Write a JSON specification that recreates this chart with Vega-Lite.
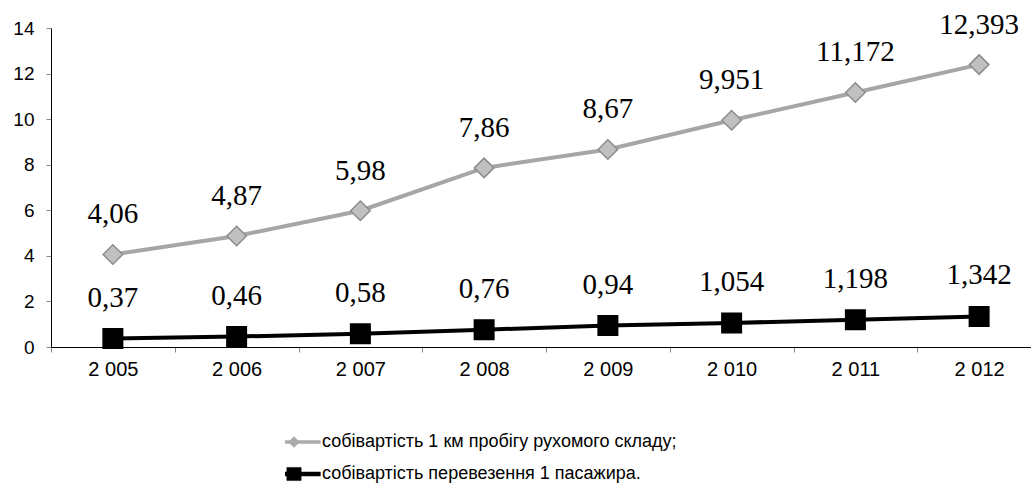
{
  "$schema": "https://vega.github.io/schema/vega-lite/v6.json",
  "width": 980,
  "height": 319,
  "autosize": {"type": "none"},
  "padding": {"left": 51, "top": 28, "right": 0, "bottom": 149},
  "background": "#ffffff",
  "config": {"view": {"stroke": null}, "font": "Liberation Sans"},
  "data": {
    "values": [
      {"year": "2 005", "series": "собівартість 1 км пробігу рухомого складу;", "value": 4.06, "label": "4,06"},
      {"year": "2 006", "series": "собівартість 1 км пробігу рухомого складу;", "value": 4.87, "label": "4,87"},
      {"year": "2 007", "series": "собівартість 1 км пробігу рухомого складу;", "value": 5.98, "label": "5,98"},
      {"year": "2 008", "series": "собівартість 1 км пробігу рухомого складу;", "value": 7.86, "label": "7,86"},
      {"year": "2 009", "series": "собівартість 1 км пробігу рухомого складу;", "value": 8.67, "label": "8,67"},
      {"year": "2 010", "series": "собівартість 1 км пробігу рухомого складу;", "value": 9.951, "label": "9,951"},
      {"year": "2 011", "series": "собівартість 1 км пробігу рухомого складу;", "value": 11.172, "label": "11,172"},
      {"year": "2 012", "series": "собівартість 1 км пробігу рухомого складу;", "value": 12.393, "label": "12,393"},
      {"year": "2 005", "series": "собівартість перевезення 1 пасажира.", "value": 0.37, "label": "0,37"},
      {"year": "2 006", "series": "собівартість перевезення 1 пасажира.", "value": 0.46, "label": "0,46"},
      {"year": "2 007", "series": "собівартість перевезення 1 пасажира.", "value": 0.58, "label": "0,58"},
      {"year": "2 008", "series": "собівартість перевезення 1 пасажира.", "value": 0.76, "label": "0,76"},
      {"year": "2 009", "series": "собівартість перевезення 1 пасажира.", "value": 0.94, "label": "0,94"},
      {"year": "2 010", "series": "собівартість перевезення 1 пасажира.", "value": 1.054, "label": "1,054"},
      {"year": "2 011", "series": "собівартість перевезення 1 пасажира.", "value": 1.198, "label": "1,198"},
      {"year": "2 012", "series": "собівартість перевезення 1 пасажира.", "value": 1.342, "label": "1,342"}
    ]
  },
  "encoding": {
    "x": {
      "field": "year",
      "type": "ordinal",
      "sort": null,
      "scale": {"range": [0, 990], "paddingInner": 0, "paddingOuter": 0},
      "axis": {
        "title": null,
        "labelAngle": 0,
        "tickBand": "extent",
        "labelFontSize": 20,
        "labelColor": "#000000",
        "labelPadding": 7,
        "tickColor": "#888888",
        "tickSize": 5,
        "domainColor": "#000000",
        "grid": false
      }
    },
    "y": {
      "field": "value",
      "type": "quantitative",
      "scale": {"domain": [0, 14], "nice": false},
      "axis": {
        "title": null,
        "values": [0, 2, 4, 6, 8, 10, 12, 14],
        "labelFontSize": 19,
        "labelColor": "#000000",
        "labelPadding": 12,
        "tickColor": "#888888",
        "tickSize": 5,
        "domainColor": "#000000",
        "grid": false
      }
    }
  },
  "layer": [
    {
      "mark": {"type": "line", "strokeWidth": 4},
      "encoding": {
        "color": {
          "field": "series",
          "type": "nominal",
          "scale": {"domain": ["собівартість 1 км пробігу рухомого складу;", "собівартість перевезення 1 пасажира."], "range": ["#A6A6A6", "#000000"]},
          "legend": {
            "title": null,
            "orient": "none",
            "legendX": 234,
            "legendY": 398,
            "direction": "vertical",
            "padding": 0,
            "rowPadding": 0,
            "clipHeight": 32,
            "labelFontSize": 18,
            "labelColor": "#000000",
            "labelOffset": 19,
            "symbolSize": 121,
            "symbolOffset": 0,
            "symbolStrokeWidth": 3,
            "labelLimit": 700,
            "encode": {
              "symbols": {
                "update": {
                  "shape": {"signal": "datum.value === 'собівартість 1 км пробігу рухомого складу;' ? 'M-4.8,-0.27L4.8,-0.27L4.8,0.27L-4.8,0.27Z M0,-1L1,0L0,1L-1,0Z' : 'M-4.8,-0.36L4.8,-0.36L4.8,0.36L-4.8,0.36Z M-1.3,-1.2L1.3,-1.2L1.3,1.2L-1.3,1.2Z'"},
                  "fill": {"signal": "datum.value === 'собівартість 1 км пробігу рухомого складу;' ? '#ABABAB' : '#000000'"},
                  "stroke": {"signal": "datum.value === 'собівартість 1 км пробігу рухомого складу;' ? '#A0A0A0' : '#000000'"},
                  "strokeWidth": {"value": 0.5},
                  "opacity": {"value": 1}
                }
              }
            }
          }
        }
      }
    },
    {
      "transform": [{"filter": "datum.series === 'собівартість 1 км пробігу рухомого складу;'"}],
      "mark": {"type": "point", "shape": "diamond", "filled": true, "size": 380, "opacity": 1, "strokeWidth": 1.5, "fill": "#C0C0C0", "stroke": "#8C8C8C"}
    },
    {
      "transform": [{"filter": "datum.series === 'собівартість перевезення 1 пасажира.'"}],
      "mark": {"type": "point", "shape": "square", "filled": true, "size": 380, "opacity": 1, "strokeWidth": 1.5, "fill": "#000000", "stroke": "#000000"}
    },
    {
      "transform": [{"filter": "datum.series === 'собівартість 1 км пробігу рухомого складу;'"}],
      "mark": {"type": "text", "font": "Liberation Serif", "fontSize": 29, "dy": -40, "color": "#000000"},
      "encoding": {"text": {"field": "label"}}
    },
    {
      "transform": [{"filter": "datum.series === 'собівартість перевезення 1 пасажира.'"}],
      "mark": {"type": "text", "font": "Liberation Serif", "fontSize": 29, "dy": -41, "color": "#000000"},
      "encoding": {"text": {"field": "label"}}
    }
  ]
}
